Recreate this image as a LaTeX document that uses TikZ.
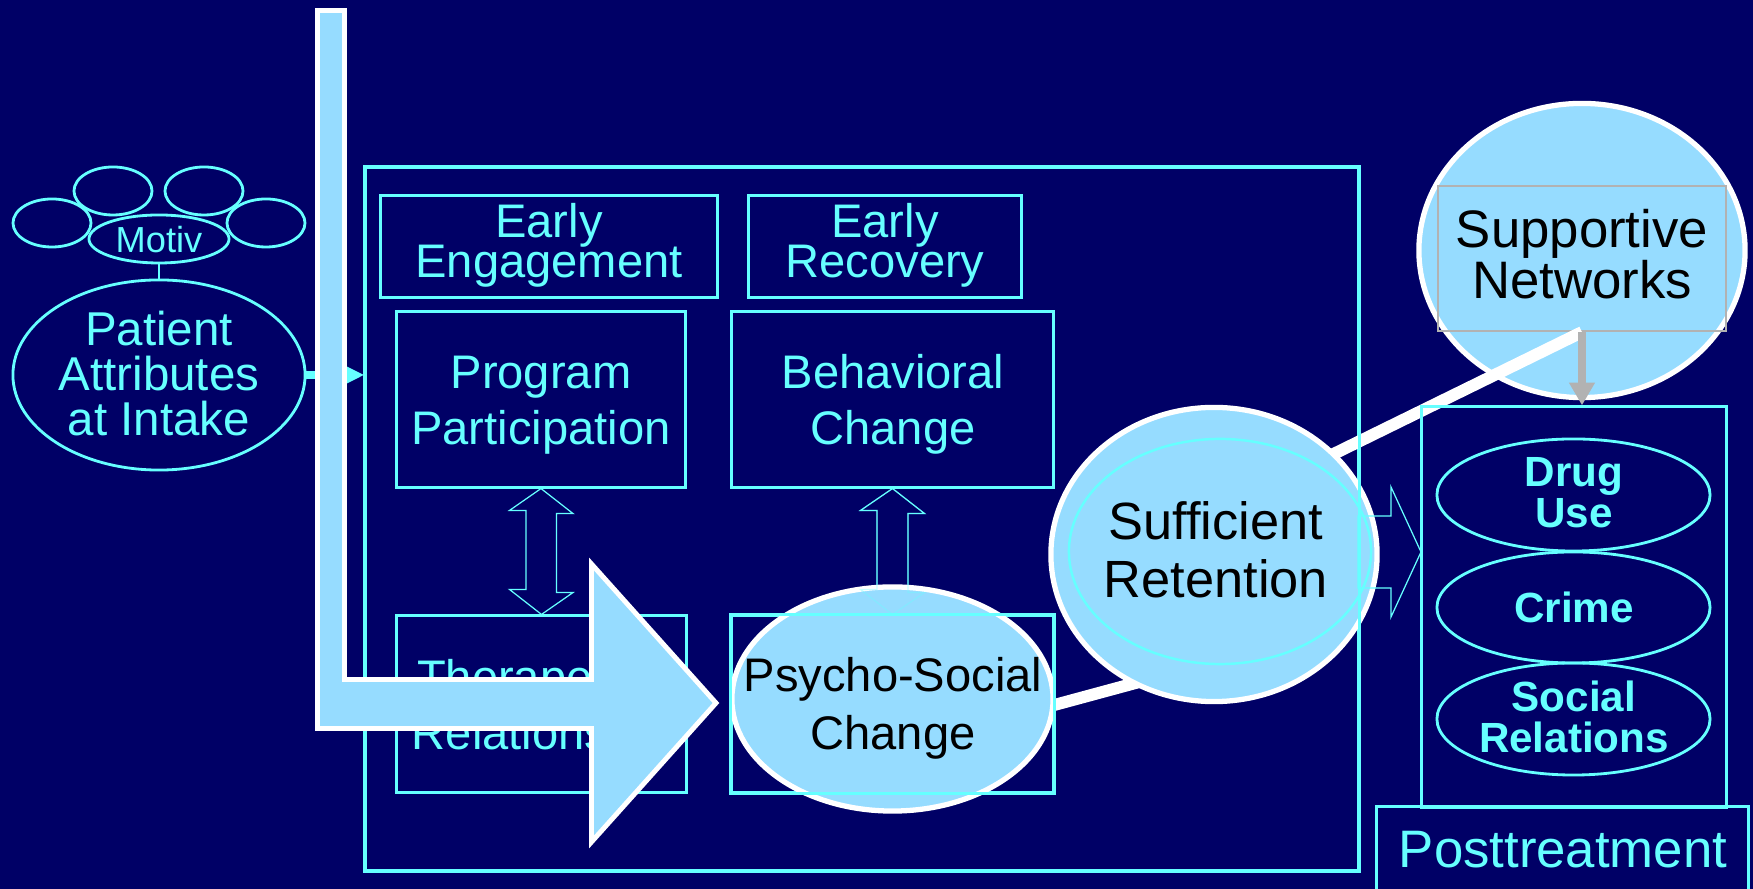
\documentclass[tikz,border=0pt]{standalone}
\usepackage{fontspec}
\setmainfont{Liberation Sans}
\usetikzlibrary{shapes.geometric,arrows.meta,calc}
\definecolor{navy}{RGB}{0,0,102}
\definecolor{cyn}{RGB}{102,255,255}
\definecolor{lblue}{RGB}{150,220,255}
\definecolor{gry}{RGB}{178,178,178}
\newcommand\mytight{\lineskiplimit=-50pt\relax}
\newcommand\myfs[2]{\mytight\fontsize{#1}{#2}\selectfont}
\tikzset{
  cbox/.style={rectangle,draw=cyn,line width=0.85pt,inner sep=0pt},
  cell/.style={ellipse,draw=cyn,line width=0.8pt,inner sep=0pt},
  bigell/.style={ellipse,draw=white,line width=1.5pt,fill=lblue,inner sep=0pt},
  darrow/.style={draw=cyn,line width=0.35pt,line join=miter},
  wline/.style={draw=white,line width=3.4pt},
  ctxt/.style={text=cyn,align=center,inner sep=0pt,anchor=base,font={\myfs{13.4pt}{16.2pt}}},
  btxt/.style={text=black,align=center,inner sep=0pt,anchor=base},
  otxt/.style={text=cyn,align=center,inner sep=0pt,anchor=base,font={\myfs{12pt}{11.7pt}\bfseries}},
}
\begin{document}
\begin{tikzpicture}[x=0.01cm,y=-0.01cm]
\fill[navy] (0,0) rectangle (1753,889);
\useasboundingbox (0,0) rectangle (1753,889);

% patient attributes cluster
\node[cell,minimum width=0.78cm,minimum height=0.48cm] (c1) at (52,223) {};
\node[cell,minimum width=0.78cm,minimum height=0.48cm] (c2) at (113,191) {};
\node[cell,minimum width=0.78cm,minimum height=0.48cm] (c3) at (204,191) {};
\node[cell,minimum width=0.78cm,minimum height=0.48cm] (c4) at (266,223) {};
\node[cell,minimum width=1.40cm,minimum height=0.48cm] (mot) at (159,239) {};
\node[text=cyn,inner sep=0pt,anchor=base,font={\myfs{10.3pt}{12pt}}] (mott) at (159,253) {Motiv};
\node[cell,minimum width=2.92cm,minimum height=1.90cm] (pat) at (159,375) {};
\draw[draw=cyn,line width=0.8pt] (mot.south) -- (pat.north);
\node[ctxt,font={\myfs{13.5pt}{12.9pt}}] (patt) at (159,436) {Patient\\Attributes\\at Intake};

% outer treatment frame and boxes
\node[cbox,minimum width=9.92cm,minimum height=7.02cm] (outer) at (862,519) {};
\node[cbox,minimum width=3.36cm,minimum height=1.01cm] (ee) at (549,246.5) {};
\node[ctxt,font={\myfs{13.4pt}{11.4pt}}] (eet) at (549,278) {Early\\Engagement};
\node[cbox,minimum width=2.72cm,minimum height=1.01cm] (er) at (885,246.5) {};
\node[ctxt,font={\myfs{13.4pt}{11.4pt}}] (ert) at (885,278) {Early\\Recovery};
\node[cbox,minimum width=2.88cm,minimum height=1.75cm] (pp) at (541,399.5) {};
\node[ctxt] (ppt) at (541,445) {Program\\Participation};
\node[cbox,minimum width=3.21cm,minimum height=1.75cm] (bc) at (892.5,399.5) {};
\node[ctxt] (bct) at (893,445) {Behavioral\\Change};
\node[cbox,minimum width=2.89cm,minimum height=1.76cm] (tr) at (541.5,704) {};
\node[ctxt] (trt) at (541.5,750) {Therapeutic\\Relationship};
\node[cbox,minimum width=3.21cm,minimum height=1.76cm] (ps) at (892.5,704) {};

% double arrows
\draw[darrow] (pp.south) -- ++(32,25) -- ++(-16.5,0) -- ++(0,79) -- ++(16.5,0) -- (tr.north)
  -- ++(-32,-25) -- ++(16.5,0) -- ++(0,-79) -- ++(-16.5,0) -- cycle;
\draw[darrow] (bc.south) -- ++(32,25) -- ++(-16.5,0) -- ++(0,79) -- ++(16.5,0) -- (ps.north)
  -- ++(-32,-25) -- ++(16.5,0) -- ++(0,-79) -- ++(-16.5,0) -- cycle;

% lower white link
\coordinate (la) at (1010,717);
\coordinate (lb) at (1180,671);
\draw[wline] (la) -- (lb);

% psycho-social change
\node[bigell,minimum width=3.21cm,minimum height=2.24cm] (psy) at (892.5,699) {};
\draw[darrow,draw opacity=0.35] (bc.south) -- ++(32,25) -- ++(-16.5,0) -- ++(0,79) -- ++(16.5,0) -- (ps.north)
  -- ++(-32,-25) -- ++(16.5,0) -- ++(0,-79) -- ++(-16.5,0) -- cycle;
\draw[draw=cyn,line width=0.85pt] (ps.south west) rectangle (ps.north east);
\node[btxt,font={\myfs{13.4pt}{16.5pt}}] (psyt) at (893,750) {Psycho-Social\\Change};

% supportive networks
\node[bigell,minimum width=3.26cm,minimum height=2.94cm] (sn) at (1582,250.5) {};
\node[rectangle,draw=gry,line width=0.6pt,inner sep=0pt,minimum width=2.88cm,minimum height=1.45cm] (grect) at (1582,258.5) {};
\node[btxt,font={\myfs{15pt}{14.5pt}}] (snt) at (1582,299) {Supportive\\Networks};

% upper white link
\coordinate (ua) at (1250,495);
\draw[wline] (ua) -- (grect.south);

% sufficient retention
\node[bigell,minimum width=3.26cm,minimum height=2.94cm] (suf) at (1214,554.5) {};
\node[ellipse,draw=cyn,line width=0.7pt,inner sep=0pt,minimum width=3.02cm,minimum height=2.25cm] (sufin) at (1220,551.5) {};
\node[btxt,font={\myfs{14.9pt}{16.5pt}}] (suft) at (1216,598) {Sufficient\\Retention};

% frame edge over ellipses
\draw[draw=cyn,line width=0.85pt] (outer.south west) rectangle (outer.north east);

% outline arrow to outcomes
\coordinate (tipo) at (1421,552);
\draw[darrow] (tipo) -- ++(-30,-65) -- ++(0,29) -- ++(-33,0) -- ++(0,72) -- ++(33,0) -- ++(0,29) -- cycle;

% outcomes
\node[cbox,minimum width=3.04cm,minimum height=4.00cm] (out) at (1574,607) {};
\node[cell,minimum width=2.73cm,minimum height=1.12cm] (e1) at (1573.5,495) {};
\node[otxt] (e1t) at (1574,528) {Drug\\Use};
\node[cell,minimum width=2.73cm,minimum height=1.11cm] (e2) at (1573.5,607.5) {};
\node[otxt] (e2t) at (1574,623) {Crime};
\node[cell,minimum width=2.73cm,minimum height=1.12cm] (e3) at (1573.5,719) {};
\node[otxt] (e3t) at (1574,753) {Social\\Relations};
\node[cbox,minimum width=3.71cm,minimum height=0.98cm] (post) at (1562.5,856) {};
\node[text=cyn,inner sep=0pt,anchor=base,font={\myfs{15pt}{16pt}}] (postt) at (1563,868) {Posttreatment};

% gray arrow
\draw[draw=gry,line width=2pt,-{Triangle[length=6.5pt,width=7pt]}] (grect.south) -- (grect.south |- out.north);

% patient connector
\draw[draw=cyn,line width=2.3pt,-{Triangle[length=5pt,width=4.5pt]}] (pat.east) -- (pat.east -| outer.west);

% bent arrow
\draw[draw=white,line width=1.4pt,fill=lblue,line join=miter]
  (317.5,10.5) -- (344.5,10.5) -- (344.5,679.5) -- (591.5,679.5) -- (591.5,564)
  -- (716,703) -- (591.5,842) -- (591.5,728.5) -- (317.5,728.5) -- cycle;
\end{tikzpicture}
\end{document}
